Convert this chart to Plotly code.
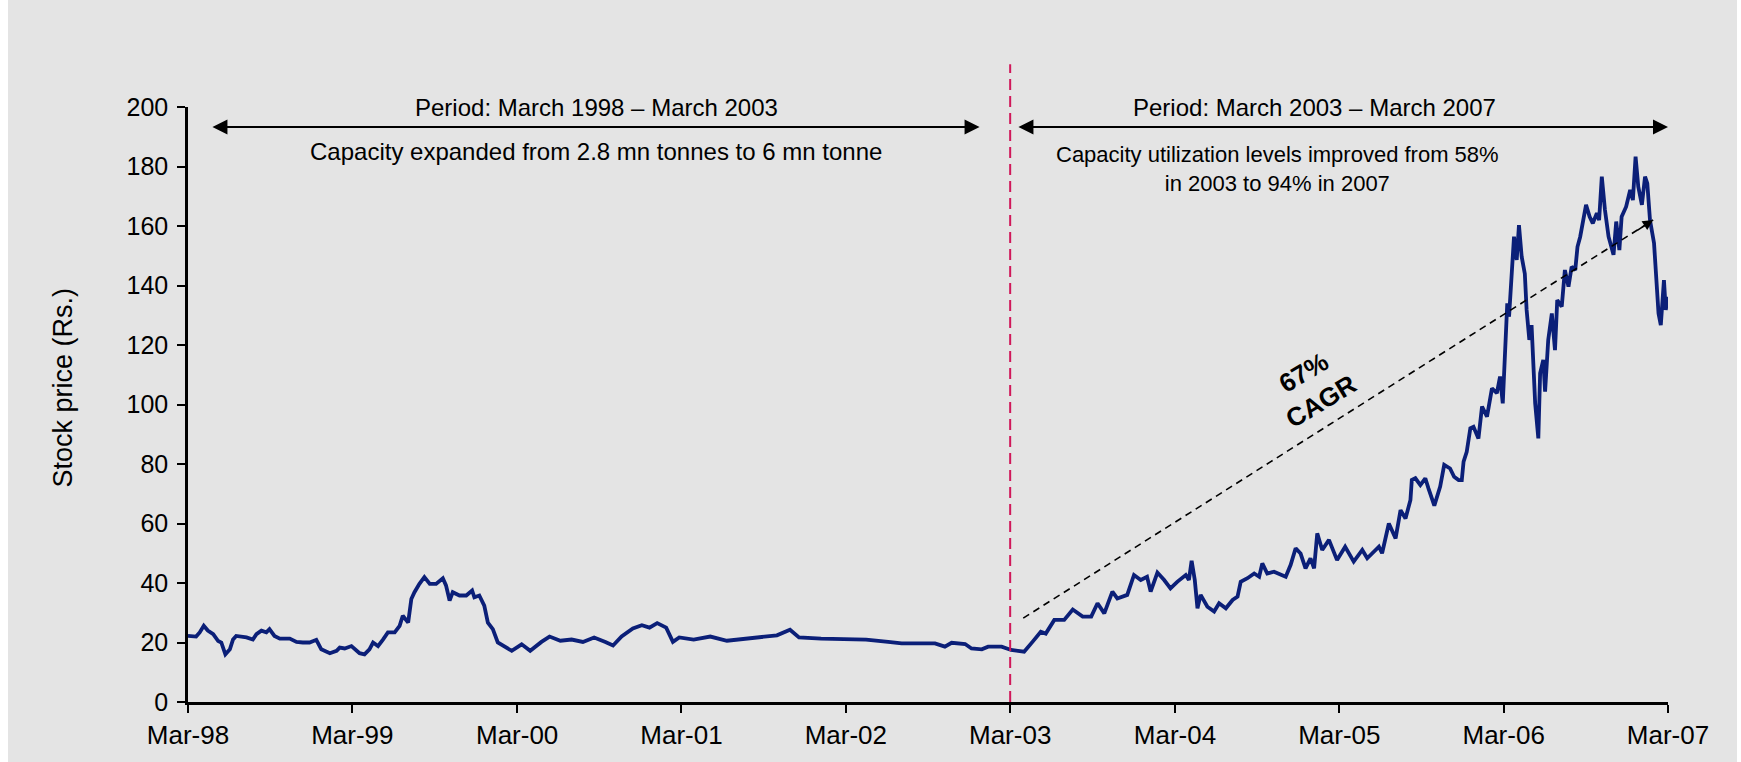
import plotly.graph_objects as go

dates = [
 "1998-03-01","1998-03-19","1998-03-27","1998-04-05","1998-04-14","1998-04-26","1998-05-07","1998-05-14",
 "1998-05-23","1998-06-02","1998-06-09","1998-06-16","1998-07-09","1998-07-23","1998-07-31","1998-08-11",
 "1998-08-22","1998-08-29","1998-09-09","1998-09-21","1998-10-13","1998-10-28","1998-11-11","1998-11-26",
 "1998-12-11","1998-12-22","1999-01-10","1999-01-25","1999-02-01","1999-02-12","1999-02-27","1999-03-06",
 "1999-03-17","1999-03-28","1999-04-08","1999-04-16","1999-04-27","1999-05-08","1999-05-19","1999-06-03",
 "1999-06-14","1999-06-21","1999-07-03","1999-07-10","1999-07-17","1999-07-28","1999-08-08","1999-08-20",
 "1999-09-03","1999-09-18","1999-09-25","1999-10-03","1999-10-10","1999-10-25","1999-11-09","1999-11-22",
 "1999-11-27","1999-12-08","1999-12-19","1999-12-27","2000-01-07","2000-01-18",
 "2000-02-01","2000-02-18","2000-03-11","2000-03-30","2000-04-24","2000-05-12","2000-06-05","2000-06-30",
 "2000-07-25","2000-08-19","2000-09-13","2000-09-30","2000-10-19","2000-11-13","2000-12-03","2000-12-20",
 "2001-01-06","2001-01-26","2001-02-10","2001-02-24","2001-03-28","2001-05-04","2001-06-10","2001-07-17",
 "2001-08-23","2001-09-29","2001-10-28","2001-11-17","2002-01-05","2002-02-24","2002-04-15","2002-06-03",
 "2002-07-03","2002-09-15","2002-10-07","2002-10-22","2002-11-21","2002-12-05","2002-12-28","2003-01-11",
 "2003-02-10","2003-03-03","2003-04-01","2003-04-20","2003-05-08","2003-05-19","2003-06-07","2003-06-29",
 "2003-07-18","2003-08-09","2003-08-28","2003-09-11","2003-09-26","2003-10-14","2003-10-25","2003-11-16",
 "2003-12-01","2003-12-16","2003-12-30","2004-01-07","2004-01-22","2004-02-06","2004-02-20","2004-03-06",
 "2004-03-25","2004-04-01","2004-04-07","2004-04-14","2004-04-20","2004-04-27","2004-05-12","2004-05-27",
 "2004-06-07","2004-06-22","2004-07-07","2004-07-18","2004-07-25","2004-08-09","2004-08-24","2004-09-04",
 "2004-09-11","2004-09-22","2004-10-07","2004-11-02","2004-11-13","2004-11-24","2004-12-05","2004-12-16",
 "2004-12-27","2005-01-04","2005-01-11","2005-01-22","2005-02-06","2005-02-24","2005-03-14","2005-04-02",
 "2005-04-21","2005-05-02","2005-05-28","2005-06-04","2005-06-19","2005-07-04","2005-07-15","2005-07-26",
 "2005-08-06","2005-08-09","2005-08-17","2005-08-28","2005-09-08","2005-09-15","2005-09-28","2005-10-11",
 "2005-10-20","2005-11-02","2005-11-11","2005-11-21","2005-11-28","2005-12-02","2005-12-09","2005-12-17",
 "2005-12-24","2006-01-04","2006-01-12","2006-01-23","2006-02-03","2006-02-14","2006-02-21","2006-02-27",
 "2006-03-04","2006-03-09","2006-03-13","2006-03-19","2006-03-24","2006-03-30","2006-04-04","2006-04-10",
 "2006-04-17","2006-04-21","2006-04-27","2006-05-02","2006-05-06","2006-05-10","2006-05-17","2006-05-21",
 "2006-05-28","2006-06-01","2006-06-08","2006-06-16","2006-06-23","2006-06-28","2006-07-08","2006-07-15",
 "2006-07-23","2006-07-30","2006-08-07","2006-08-12","2006-08-18","2006-08-25","2006-08-31","2006-09-08",
 "2006-09-15","2006-09-24","2006-09-29","2006-10-05","2006-10-12","2006-10-20","2006-10-27","2006-10-31",
 "2006-11-06","2006-11-13","2006-11-18","2006-11-28","2006-12-07","2006-12-13","2006-12-19","2006-12-25",
 "2007-01-02","2007-01-09","2007-01-14","2007-01-20","2007-01-29","2007-02-03","2007-02-08","2007-02-13",
 "2007-02-20","2007-02-24","2007-03-01"]

prices = [
 22.2,22.0,23.4,25.6,24.0,22.8,20.5,20.0,
 16.0,17.7,21.0,22.2,21.7,21.0,22.8,24.0,
 23.4,24.5,22.2,21.3,21.3,20.2,20.0,20.0,
 20.9,17.7,16.4,17.2,18.3,18.0,18.8,17.7,
 16.4,16.0,17.7,20.0,18.8,21.0,23.4,23.4,
 25.6,29.0,26.7,34.6,36.9,39.7,42.0,39.7,
 39.7,41.6,39.2,34.1,36.9,35.8,35.8,37.5,
 35.2,35.8,32.4,26.7,24.5,20.0,
 18.7,17.2,19.4,17.2,20.2,22.0,20.6,21.0,
 20.2,21.7,20.2,19.0,22.0,24.7,25.8,25.0,
 26.5,25.0,20.2,21.7,21.0,22.0,20.6,21.3,
 22.0,22.4,24.3,21.7,21.3,21.3,21.0,20.2,
 19.7,19.7,18.6,19.9,19.5,18.0,17.7,18.6,
 18.6,17.5,16.9,20.3,23.6,23.0,27.6,27.6,
 31.1,28.7,28.7,33.2,29.8,37.1,34.8,36.0,
 42.7,41.0,42.1,37.1,43.5,41.0,38.2,40.4,
 42.7,41.0,47.5,41.0,31.5,36.0,32.0,30.4,
 33.2,31.5,34.3,35.4,40.4,41.6,43.2,42.1,
 46.6,43.2,43.8,42.1,46.1,51.7,49.9,44.9,
 48.3,44.9,56.7,51.1,54.5,47.7,52.2,47.2,
 51.1,48.3,52.2,50.0,60.0,55.0,64.5,61.7,
 67.9,74.6,75.2,72.9,75.2,71.8,66.0,72.4,
 79.7,78.5,75.7,74.6,74.6,80.8,84.1,92.0,
 92.5,88.6,99.3,95.9,105.4,103.8,109.4,100.4,
 115.0,134.0,129.5,143.0,156.4,148.6,160.3,149.7,
 144.0,131.8,121.7,126.7,116.0,100.4,88.6,110.5,
 115.0,104.3,121.7,130.6,118.3,135.1,132.9,145.2,
 139.6,146.3,145.2,153.0,156.4,162.0,167.1,163.1,
 160.9,164.3,162.0,176.6,165.4,156.4,151.9,150.3,
 161.5,151.9,163.1,166.5,172.1,168.7,183.3,173.2,
 167.1,176.6,174.3,162.0,154.2,139.6,130.6,126.7,
 141.8,131.8,136.2]

tick_dates = ["1998-03-01","1999-03-01","2000-03-01","2001-03-01","2002-03-01",
              "2003-03-01","2004-03-01","2005-03-01","2006-03-01","2007-03-01"]
tick_labels = ["Mar-98","Mar-99","Mar-00","Mar-01","Mar-02","Mar-03","Mar-04","Mar-05","Mar-06","Mar-07"]
y_ticks = [0, 20, 40, 60, 80, 100, 120, 140, 160, 180, 200]

FONT = "Liberation Sans, Arial, sans-serif"
BG = "#e4e4e4"

fig = go.Figure()
fig.add_trace(go.Scatter(x=dates, y=prices, mode="lines",
                         line=dict(color="#0b1f78", width=3.8), showlegend=False,
                         hoverinfo="x+y"))

shapes = [
    dict(type="rect", xref="paper", yref="paper", x0=-0.2, x1=-0.1216, y0=-0.2, y1=1.3,
         fillcolor="white", line=dict(width=0), layer="below"),
    dict(type="rect", xref="paper", yref="paper", x0=1.0466, x1=1.1, y0=-0.2, y1=1.3,
         fillcolor="white", line=dict(width=0), layer="below"),
    dict(type="line", xref="x", yref="paper", x0="2003-03-01", x1="2003-03-01", y0=0, y1=1.072,
         line=dict(color="#d0185a", width=2, dash="11px,6px")),
    dict(type="line", xref="x", yref="y", x0="2003-03-30", y0=28.2, x1="2007-01-27", y1=162,
         line=dict(color="black", width=1.6, dash="7px,5px")),
]

annotations = [
    dict(x="2002-12-23", y=193.3, ax="1998-04-21", ay=193.3, xref="x", yref="y",
         axref="x", ayref="y", text="", showarrow=True, arrowhead=2, startarrowhead=2,
         arrowside="end+start", arrowsize=1.5, startarrowsize=1.5, arrowwidth=2, arrowcolor="black"),
    dict(x="2007-03-01", y=193.3, ax="2003-03-16", ay=193.3, xref="x", yref="y",
         axref="x", ayref="y", text="", showarrow=True, arrowhead=2, startarrowhead=2,
         arrowside="end+start", arrowsize=1.5, startarrowsize=1.5, arrowwidth=2, arrowcolor="black"),
    dict(x="2000-08-24", y=199.7, xref="x", yref="y", text="Period: March 1998 – March 2003",
         showarrow=False, font=dict(size=24, color="black", family=FONT)),
    dict(x="2000-08-24", y=184.9, xref="x", yref="y",
         text="Capacity expanded from 2.8 mn tonnes to 6 mn tonne",
         showarrow=False, font=dict(size=24, color="black", family=FONT)),
    dict(x="2005-01-04", y=199.7, xref="x", yref="y", text="Period: March 2003 – March 2007",
         showarrow=False, font=dict(size=24, color="black", family=FONT)),
    dict(x="2004-10-14", y=179.3, xref="x", yref="y",
         text="Capacity utilization levels improved from 58%<br>in 2003 to 94% in 2007",
         showarrow=False, font=dict(size=22, color="black", family=FONT)),
    dict(x="2004-12-31", y=105.9, xref="x", yref="y", text="<b>67%<br>CAGR</b>",
         showarrow=False, textangle=-31, font=dict(size=26, color="black", family=FONT)),
    dict(x="2007-01-27", y=162, xref="x", yref="y", ax=-17, ay=11, text="",
         showarrow=True, arrowhead=2, arrowsize=1.3, arrowwidth=1.6, arrowcolor="black"),
    dict(x=-0.0838, y=0.5286, xref="paper", yref="paper", text="Stock price (Rs.)",
         textangle=-90, showarrow=False, xanchor="center", yanchor="middle",
         font=dict(size=27, color="black", family=FONT)),
]

fig.update_layout(
    width=1741, height=762,
    margin=dict(l=188, r=73, t=107, b=60),
    paper_bgcolor=BG, plot_bgcolor=BG,
    font=dict(family=FONT, color="black", size=25),
    shapes=shapes, annotations=annotations,
    xaxis=dict(type="date", range=["1998-03-01", "2007-03-01"], tickmode="array",
               tickvals=tick_dates, ticktext=tick_labels, showgrid=False, zeroline=False,
               showline=True, linecolor="black", linewidth=2.5, ticks="outside",
               ticklen=8, tickwidth=2, tickcolor="black", tickfont=dict(size=26)),
    yaxis=dict(range=[0, 200], tickmode="array", tickvals=y_ticks, showgrid=False,
               zeroline=False, showline=True, linecolor="black", linewidth=2.5,
               ticks="outside", ticklen=8, tickwidth=2, tickcolor="black",
               tickfont=dict(size=25), ticklabelstandoff=4),
)

fig.write_html("out.html")
